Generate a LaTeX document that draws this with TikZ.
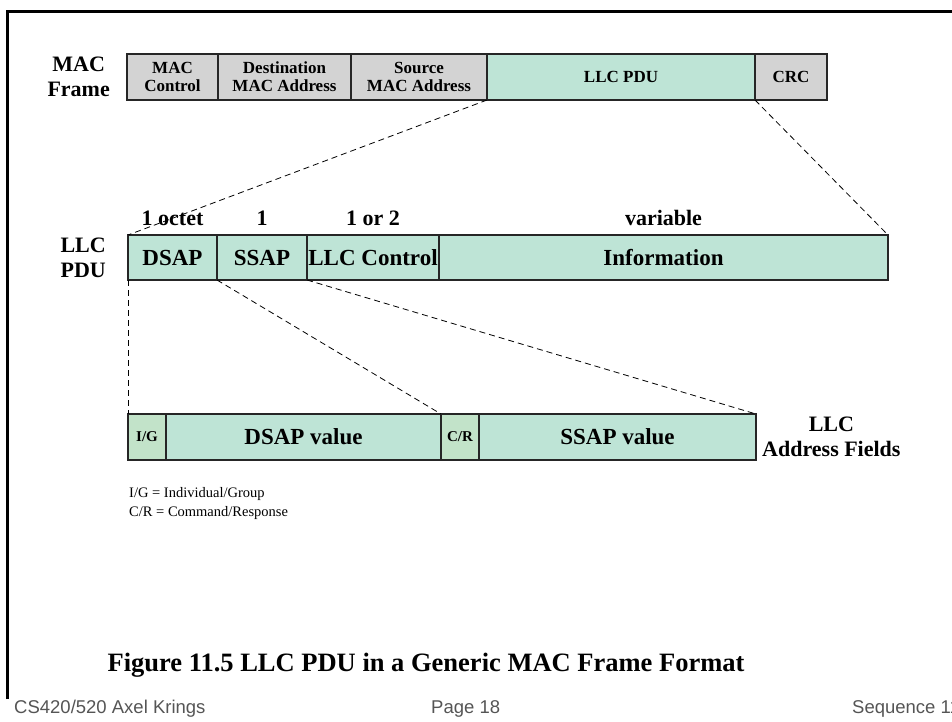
\documentclass[tikz,border=0pt]{standalone}
\usepackage{fontspec}
\setmainfont{Liberation Serif}
\setsansfont{Liberation Sans}
\usetikzlibrary{positioning}
\definecolor{fieldgray}{RGB}{211,211,211}
\definecolor{llcgreen}{RGB}{190,228,214}
\definecolor{flaggreen}{RGB}{194,227,201}
\definecolor{footgray}{RGB}{85,85,85}

\begin{document}
\begin{tikzpicture}[x=1pt, y=-1pt,
    field/.style={draw=black!85, line width=2.5pt, inner sep=0pt, outer sep=0pt, align=center},
    macfield/.style={field, fill=fieldgray, minimum height=46, font=\fontsize{17}{18}\selectfont\bfseries},
    llcfield/.style={field, fill=llcgreen, minimum height=45, font=\fontsize{23}{24}\selectfont\bfseries},
    addrfield/.style={field, fill=llcgreen, minimum height=46, font=\fontsize{23}{24}\selectfont\bfseries},
    flagfield/.style={addrfield, fill=flaggreen, font=\fontsize{15}{16}\selectfont\bfseries},
    biglabel/.style={align=center, inner sep=0pt, font=\fontsize{22}{25}\selectfont\bfseries},
    sizelabel/.style={inner sep=0pt, font=\fontsize{22}{24}\selectfont\bfseries},
    conn/.style={dash pattern=on 6pt off 4pt, line width=0.8pt},
    legend/.style={inner sep=0pt, font=\fontsize{14.5}{16}\selectfont},
    footer/.style={inner sep=0pt, text=footgray, font=\sffamily\fontsize{18.5}{20}\selectfont}
]
    \useasboundingbox (0,0) rectangle (952,721);

    % Slide frame
    \draw[line width=3pt] (7.5,699) -- (7.5,11) -- (970,11);

    % MAC frame
    \node[macfield, minimum width=91, anchor=north west] (macctl) at (127,54) {MAC\\Control};
    \node[macfield, minimum width=133, right=0pt of macctl] (dstaddr) {Destination\\MAC Address};
    \node[macfield, minimum width=136, right=0pt of dstaddr] (srcaddr) {Source\\MAC Address};
    \node[macfield, fill=llcgreen, minimum width=268, right=0pt of srcaddr] (llcpdu) {LLC PDU};
    \node[macfield, minimum width=72, right=0pt of llcpdu] (crc) {CRC};
    \node[biglabel, left=17pt of macctl] (maclbl) {MAC\\Frame};

    % LLC PDU
    \node[llcfield, minimum width=89, anchor=north west] (dsap) at (128,235) {DSAP};
    \node[llcfield, minimum width=90, right=0pt of dsap] (ssap) {SSAP};
    \node[llcfield, minimum width=132, right=0pt of ssap] (llcctl) {LLC Control};
    \node[llcfield, minimum width=449, right=0pt of llcctl] (info) {Information};
    \node[biglabel, left=22pt of dsap] (llclbl) {LLC\\PDU};

    \node[sizelabel, above=9pt of dsap] (dsapsz) {1 octet};
    \node[sizelabel, above=9pt of ssap] (ssapsz) {1};
    \node[sizelabel, above=9pt of llcctl] (llcctlsz) {1 or 2};
    \node[sizelabel, above=9pt of info] (infosz) {variable};

    % LLC address fields
    \node[flagfield, minimum width=38, anchor=north west] (ig) at (128,414) {I/G};
    \node[addrfield, minimum width=275, right=0pt of ig] (dsapval) {DSAP value};
    \node[flagfield, minimum width=38, right=0pt of dsapval] (cr) {C/R};
    \node[addrfield, minimum width=277, right=0pt of cr] (ssapval) {SSAP value};
    \node[biglabel, right=6pt of ssapval] (addrlbl) {LLC\\Address Fields};

    % Expansion lines
    \draw[conn] (llcpdu.south west) -- (dsap.north west);
    \draw[conn] (llcpdu.south east) -- (info.north east);
    \draw[conn] (dsap.south west) -- (ig.north west);
    \draw[conn] (dsap.south east) -- (cr.north west);
    \draw[conn] (ssap.south east) -- (ssapval.north east);

    % Legend
    \node[legend, anchor=west] (iglegend) at (129,494) {I/G = Individual/Group};
    \node[legend, anchor=west] (crlegend) at (129,513) {C/R = Command/Response};

    % Caption and footer
    \node[font=\fontsize{26.5}{28}\selectfont\bfseries, anchor=base] (caption) at (426,671) {Figure 11.5 LLC PDU in a Generic MAC Frame Format};
    \node[footer, anchor=base west] (course) at (14,713) {CS420/520 Axel Krings};
    \node[footer, anchor=base west] (page) at (431,713) {Page 18};
    \node[footer, anchor=base west] (seq) at (852,713) {Sequence 11};
\end{tikzpicture}
\end{document}
